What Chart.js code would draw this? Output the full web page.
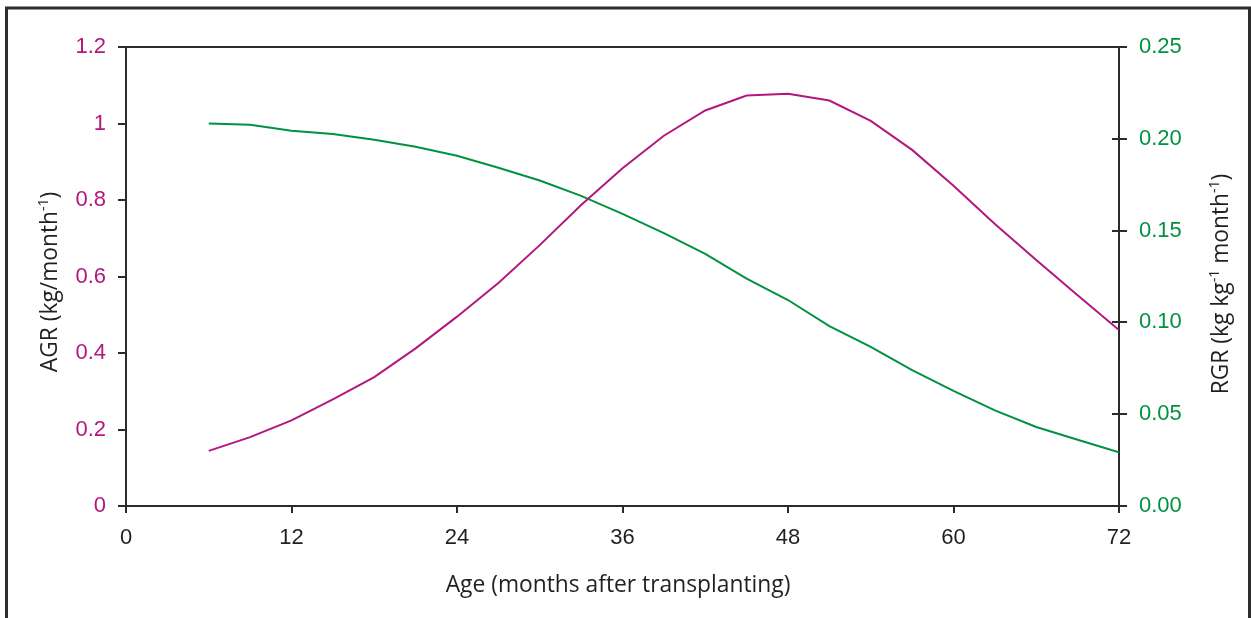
<!DOCTYPE html>
<html>
<head>
<meta charset="utf-8">
<script src="https://cdn.jsdelivr.net/npm/chart.js@4.4.1/dist/chart.umd.min.js"></script>
<style>
  html, body { margin: 0; padding: 0; background: #fff; }
  canvas { display: block; }
</style>
</head>
<body>
<canvas id="growth" width="1251" height="618"></canvas>
<script>
// months after transplanting
const months = [6, 9, 12, 15, 18, 21, 24, 27, 30, 33, 36, 39, 42, 45, 48, 51, 54, 57, 60, 63, 66, 69, 72];
// absolute growth rate, kg/month (left axis)
const agr = [0.144, 0.180, 0.224, 0.279, 0.337, 0.412, 0.495, 0.583, 0.682, 0.787, 0.883, 0.968, 1.034, 1.073, 1.078,
             1.060, 1.007, 0.931, 0.837, 0.737, 0.643, 0.551, 0.460];
// relative growth rate, kg kg-1 month-1 (right axis)
const rgr = [0.2083, 0.2077, 0.2044, 0.2026, 0.1995, 0.1957, 0.1908, 0.1842, 0.1773, 0.1689, 0.1591, 0.1486, 0.1373,
             0.1238, 0.1122, 0.0980, 0.0867, 0.0740, 0.0627, 0.0521, 0.0430, 0.0361, 0.0292];

const xTitle = [{ t: "Age (months after transplanting)" }];
const agrTitle = [{ t: "AGR (kg/month" }, { t: "-1", sup: true }, { t: ")" }];
const rgrTitle = [{ t: "RGR (kg kg" }, { t: "-1", sup: true }, { t: " month" }, { t: "-1", sup: true }, { t: ")" }];

const MAGENTA = "#B3177F";
const GREEN = "#00923F";
const INK = "#231F20";
const AXIS = "#2b2b2b";
const TICK_FONT = { family: "'Liberation Sans', Arial, sans-serif", size: 22 };
const TITLE_FAMILY = "'Open Sans', sans-serif";
const TITLE_SIZE = 22.8;

function drawRich(ctx, parts, cx, cy, size, rot) {
    ctx.save();
    ctx.translate(cx, cy);
    ctx.rotate(rot);
    ctx.fillStyle = INK;
    ctx.textBaseline = "alphabetic";
    const base = size + "px " + TITLE_FAMILY;
    const small = Math.round(size * 0.62) + "px " + TITLE_FAMILY;
    let total = 0;
    parts.forEach(p => {
        ctx.font = p.sup ? small : base;
        p.w = ctx.measureText(p.t).width;
        total += p.w;
    });
    let x = -total / 2;
    parts.forEach(p => {
        ctx.font = p.sup ? small : base;
        ctx.fillText(p.t, x, p.sup ? -size * 0.4 : 0);
        x += p.w;
    });
    ctx.restore();
}

const framePlugin = {
    id: "frame",
    beforeDraw(chart) {
        const ctx = chart.ctx;
        ctx.save();
        ctx.fillStyle = "#fff";
        ctx.fillRect(0, 0, chart.width, chart.height);
        ctx.strokeStyle = "#2d2d2d";
        ctx.lineWidth = 3;
        ctx.beginPath();
        ctx.moveTo(6.5, chart.height);
        ctx.lineTo(6.5, 8);
        ctx.lineTo(1249.5, 8);
        ctx.lineTo(1249.5, chart.height);
        ctx.stroke();
        ctx.restore();
    },
    afterDraw(chart) {
        const { ctx, chartArea: a, scales } = chart;
        ctx.save();
        ctx.strokeStyle = AXIS;
        ctx.lineWidth = 2;
        ctx.beginPath();
        ctx.moveTo(a.left, a.top);
        ctx.lineTo(a.right, a.top);
        // right axis ticks also poke into the plot
        scales.y2.ticks.forEach(t => {
            const y = Math.round(scales.y2.getPixelForValue(t.value));
            ctx.moveTo(a.right - 7, y);
            ctx.lineTo(a.right, y);
        });
        ctx.stroke();
        ctx.restore();

        drawRich(ctx, xTitle, 618, 592, TITLE_SIZE, 0);
        drawRich(ctx, agrTitle, 57, 282, TITLE_SIZE, -Math.PI / 2);
        drawRich(ctx, rgrTitle, 1228, 284, TITLE_SIZE, -Math.PI / 2);
    }
};

const grid = { drawOnChartArea: false, tickLength: 8, color: AXIS, lineWidth: 2 };
const border = { color: AXIS, width: 2 };

new Chart(document.getElementById("growth"), {
    type: "line",
    data: {
        datasets: [
            {
                label: "AGR",
                data: months.map((m, i) => ({ x: m, y: agr[i] })),
                borderColor: MAGENTA,
                borderWidth: 2,
                pointRadius: 0,
                tension: 0,
                yAxisID: "y"
            },
            {
                label: "RGR",
                data: months.map((m, i) => ({ x: m, y: rgr[i] })),
                borderColor: GREEN,
                borderWidth: 2,
                pointRadius: 0,
                tension: 0,
                yAxisID: "y2"
            }
        ]
    },
    options: {
        responsive: false,
        animation: false,
        layout: { padding: { top: 47, left: 0, right: 0, bottom: 0 } },
        plugins: { legend: { display: false }, tooltip: { enabled: false } },
        scales: {
            x: {
                type: "linear",
                min: 0,
                max: 72,
                grid: { ...grid, tickLength: 7 },
                border,
                ticks: { stepSize: 12, color: INK, font: TICK_FONT, padding: 12, maxRotation: 0 },
                afterFit: s => { s.height = 112; }
            },
            y: {
                position: "left",
                min: 0,
                max: 1.2,
                grid,
                border,
                ticks: { stepSize: 0.2, color: MAGENTA, font: TICK_FONT, padding: 12,
                         callback: v => String(Math.round(v * 10) / 10) },
                afterFit: s => { s.width = 126; }
            },
            y2: {
                position: "right",
                min: 0,
                max: 0.25,
                grid,
                border,
                ticks: { stepSize: 0.05, color: GREEN, font: TICK_FONT, padding: 12, callback: v => v.toFixed(2) },
                afterFit: s => { s.width = 132; }
            }
        }
    },
    plugins: [framePlugin]
});
</script>
</body>
</html>
